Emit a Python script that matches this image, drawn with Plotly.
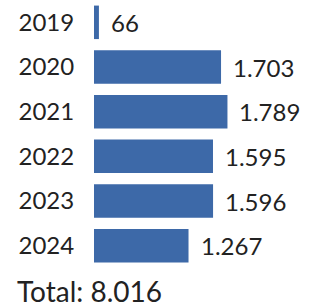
import plotly.graph_objects as go

years = ["2019", "2020", "2021", "2022", "2023", "2024"]
values = [66, 1703, 1789, 1595, 1596, 1267]
labels = ["66", "1.703", "1.789", "1.595", "1.596", "1.267"]
total_label = "Total: 8.016"

W, H = 310, 307
ML, MR, MT, MB = 94, 10, 0, 39
plot_w = W - ML - MR

fig = go.Figure(go.Bar(
    x=values, y=years, orientation="h",
    marker=dict(color="#3d69a8", line=dict(width=0)),
    hoverinfo="skip",
))

annotations = []
for i, (v, t) in enumerate(zip(values, labels)):
    annotations.append(dict(x=v, y=i, xref="x", yref="y", text=t, showarrow=False,
                            xanchor="left", yanchor="middle", xshift=10,
                            font=dict(family="Lato", size=24, color="#222222")))
annotations.append(dict(x=(15 - ML) / plot_w, y=0, xref="paper", yref="paper",
                        text=total_label, showarrow=False, xanchor="left", yanchor="top",
                        yshift=-4, font=dict(family="Lato", size=28, color="#222222")))

fig.update_layout(
    width=W, height=H,
    margin=dict(l=ML, r=MR, t=MT, b=MB, autoexpand=False),
    paper_bgcolor="white", plot_bgcolor="white",
    bargap=0.25,
    showlegend=False,
    annotations=annotations,
    xaxis=dict(range=[0, plot_w / 0.0746], visible=False, fixedrange=True),
    yaxis=dict(type="category", categoryorder="array", categoryarray=years,
               range=[len(years) - 0.5, -0.5], showgrid=False, zeroline=False,
               showline=False, ticks="outside", ticklen=14, tickcolor="rgba(0,0,0,0)",
               fixedrange=True,
               tickfont=dict(family="Lato", size=24, color="#222222")),
)

fig.write_html("out.html", config={"displayModeBar": False},
               post_script="document.body.style.margin='0';")
